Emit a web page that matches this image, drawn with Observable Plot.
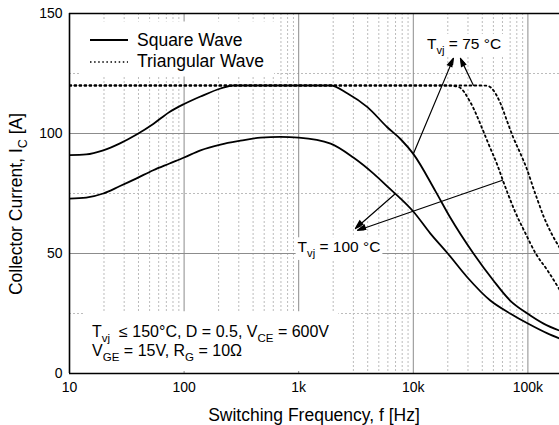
<!DOCTYPE html>
<html><head><meta charset="utf-8">
<script src="https://cdn.jsdelivr.net/npm/d3@7"></script>
<script src="https://cdn.jsdelivr.net/npm/@observablehq/plot@0.6"></script>
<style>body{margin:0;background:#fff}svg{display:block}</style>
</head><body><div id="chart"></div>
<script>
// ---- data ----
const xTicks = [10, 100, 1000, 10000, 100000];
const xTickLabels = ["10", "100", "1k", "10k", "100k"];
const yTicks = [0, 50, 100, 150];
const xGrid = [100, 1000, 10000, 100000];
const yGrid = [50, 100];
const yMinor = [25, 75, 125];
const xMinor = [];
for (const dec of [10, 100, 1000, 10000]) for (let k = 2; k <= 9; k++) xMinor.push(dec * k);

// Square wave, Tvj = 75 °C
const sqrFreq75 = [10, 14, 19.7, 27.3, 38.5, 53.8, 74.6, 100, 139, 208, 269, 400, 1000, 1900, 2670, 3980, 5960, 7800, 10000, 15600, 21000, 33500, 50000, 70000, 99000, 137000, 188700];
const sqrCurr75 = [91, 91.3, 93, 95.8, 99.6, 104, 109, 112.3, 115.4, 118.75, 120, 120, 120, 120, 116.7, 111, 102.5, 97.5, 91.5, 76, 65, 50, 38.75, 30.4, 25, 20.8, 17.9];
// Square wave, Tvj = 100 °C
const sqrFreq100 = [10, 14, 19.7, 27.3, 38.5, 53.8, 74.6, 100, 139, 208, 311, 464, 692, 1000, 1900, 3000, 4500, 6300, 7700, 10000, 14000, 20000, 29700, 47000, 70000, 100000, 148000, 188700];
const sqrCurr100 = [72.9, 73.3, 75, 78, 81.3, 84.7, 87.5, 90, 93, 95.4, 97, 98.3, 98.6, 98.3, 95.8, 90, 83.3, 76.8, 73, 67.5, 58.5, 50, 40, 30.4, 25, 20.8, 16.7, 14.6];
// Triangular wave, Tvj = 100 °C
const triFreq100 = [10, 1000, 20000, 24800, 31500, 40000, 45000, 54000, 61000, 68000, 78000, 95000, 117000, 148000, 188700];
const triCurr100 = [120, 120, 120, 119.4, 113, 102, 96, 87, 80, 74, 67, 58.5, 50, 43, 35];
// Triangular wave, Tvj = 75 °C
const triFreq75 = [10, 1000, 40000, 45000, 49000, 57700, 66000, 75000, 86000, 99000, 112000, 121000, 137000, 160000, 188700];
const triCurr75 = [120, 120, 120, 119.8, 118.5, 112.5, 105, 98, 91.7, 84.6, 77, 72.5, 65.5, 58.5, 52.5];

// annotation arrows (tail on curve -> head at label)
const arrowFromF = [10000, 33500, 7000, 60000];
const arrowFromI = [91.5, 120, 75, 80.5];
const arrowToF = [22400, 25800, 3130, 3260];
const arrowToI = [131.3, 131.3, 60.4, 59.6];

const legendLabels = ["Square Wave", "Triangular Wave"];
const xTitle = "Switching Frequency, f [Hz]";
const yTitle = ["Collector Current, I", {sub: "C"}, " [A]"];
const label75 = ["T", {sub: "vj"}, " = 75 °C"];
const label100 = ["T", {sub: "vj"}, " = 100 °C"];
const noteLine1 = ["T", {sub: "vj"}, "  ≤ 150°C, D = 0.5, V", {sub: "CE"}, " = 600V"];
const noteLine2 = ["V", {sub: "GE"}, " = 15V, R", {sub: "G"}, " = 10Ω"];
// label anchors in data coordinates
const label75Pos = {f: 28000, i: 135};
const label100Pos = {f: 2270, i: 50.3};
const notePos = {f: 15.9, i1: 14.9, i2: 7.0};

// ---- build ----
const FONT = "'Liberation Sans', Arial, Helvetica, sans-serif";
const toPts = (fs, is) => fs.map((f, k) => ({f, i: is[k]}));
const arrows = arrowFromF.map((f, k) => ({x1: f, y1: arrowFromI[k], x2: arrowToF[k], y2: arrowToI[k]}));

const plot = Plot.plot({
  width: 559, height: 425,
  marginLeft: 69, marginRight: 0, marginTop: 13, marginBottom: 52,
  style: {fontFamily: FONT, fontSize: "14px", background: "#fff", color: "#000", overflow: "visible"},
  x: {type: "log", domain: [10, 188700]},
  y: {domain: [0, 150]},
  marks: [
    Plot.ruleX(xMinor, {stroke: "#bcbcbc", strokeDasharray: "2,2", strokeWidth: 1}),
    Plot.ruleY(yMinor, {stroke: "#bcbcbc", strokeDasharray: "2,2", strokeWidth: 1}),
    Plot.ruleX(xGrid, {stroke: "#8c8c8c", strokeWidth: 1}),
    Plot.ruleY(yGrid, {stroke: "#8c8c8c", strokeWidth: 1}),
    Plot.axisX({ticks: xTicks, tickSize: 0, tickPadding: 9, tickFormat: d => xTickLabels[xTicks.indexOf(d)], label: null}),
    Plot.axisY({ticks: yTicks, tickSize: 0, tickPadding: 7, label: null}),
    Plot.line(toPts(sqrFreq75, sqrCurr75), {x: "f", y: "i", curve: "monotone-x", stroke: "#000", strokeWidth: 1.8, clip: true}),
    Plot.line(toPts(sqrFreq100, sqrCurr100), {x: "f", y: "i", curve: "monotone-x", stroke: "#000", strokeWidth: 1.8, clip: true}),
    Plot.line(toPts(triFreq100, triCurr100), {x: "f", y: "i", curve: "monotone-x", stroke: "#000", strokeWidth: 1.8, strokeDasharray: "1.8,3.2", clip: true}),
    Plot.line(toPts(triFreq75, triCurr75), {x: "f", y: "i", curve: "monotone-x", stroke: "#000", strokeWidth: 1.8, strokeDasharray: "1.8,3.2", clip: true}),
    Plot.arrow(arrows, {x1: "x1", y1: "y1", x2: "x2", y2: "y2", stroke: "#000", strokeWidth: 1.2, headLength: 8, headAngle: 30}),
    Plot.ruleY([0, 150], {stroke: "#000", strokeWidth: 1.6}),
    Plot.ruleX([10], {stroke: "#000", strokeWidth: 1.6})
  ]
});
document.getElementById("chart").appendChild(plot);

const sx = plot.scale("x"), sy = plot.scale("y");
const svg = d3.select(plot);
const firstLine = svg.select('g[aria-label="line"]').node();
const bgLayer = d3.select(plot.insertBefore(document.createElementNS("http://www.w3.org/2000/svg", "g"), firstLine));
const fg = svg.append("g").attr("font-family", FONT).attr("fill", "#000").attr("text-anchor", "start");

// filled arrowheads, positioned through the plot scales
arrows.forEach(a => {
  const x1 = sx.apply(a.x1), y1 = sy.apply(a.y1), x2 = sx.apply(a.x2), y2 = sy.apply(a.y2);
  const ang = Math.atan2(y2 - y1, x2 - x1), L = 9, W = 3.2;
  const bx = x2 - L * Math.cos(ang), by = y2 - L * Math.sin(ang);
  const px = -Math.sin(ang) * W, py = Math.cos(ang) * W;
  fg.append("polygon").attr("points", `${x2},${y2} ${bx + px},${by + py} ${bx - px},${by - py}`).attr("fill", "#000");
});

function rich(parent, parts, x, y, size, anchor, transform) {
  const t = parent.append("text").attr("x", x).attr("y", y).attr("font-size", size)
    .attr("text-anchor", anchor || "start");
  if (transform) t.attr("transform", transform);
  const shift = size * 0.3;
  let down = false;
  parts.forEach(p => {
    const ts = t.append("tspan");
    if (typeof p === "string") {
      if (down) { ts.attr("dy", -shift); down = false; }
      ts.text(p);
    } else {
      ts.attr("dy", shift).attr("font-size", size * 0.72).text(p.sub);
      down = true;
    }
  });
  return t;
}
function bg(node, padX, padT, padB) {
  const b = node.getBBox();
  bgLayer.append("rect").attr("x", b.x - padX).attr("y", b.y - padT)
    .attr("width", b.width + 2 * padX).attr("height", b.height + padT + padB).attr("fill", "#fff");
}

// axis titles
fg.append("text").attr("x", (69 + 559) / 2).attr("y", 421).attr("text-anchor", "middle")
  .attr("font-size", 17.5).text(xTitle);
rich(fg, yTitle, 0, 0, 17.5, "middle", "translate(22,204) rotate(-90)");

// legend
const lg = fg.append("g");
const lx0 = 90, lx1 = 128;
lg.append("line").attr("x1", lx0).attr("x2", lx1).attr("y1", 40).attr("y2", 40).attr("stroke", "#000").attr("stroke-width", 1.8);
lg.append("line").attr("x1", lx0).attr("x2", lx1).attr("y1", 62).attr("y2", 62).attr("stroke", "#000").attr("stroke-width", 1.4).attr("stroke-dasharray", "1.5,2.6");
lg.append("text").attr("x", 137).attr("y", 45.5).attr("font-size", 17.5).attr("text-anchor", "start").text(legendLabels[0]);
lg.append("text").attr("x", 137).attr("y", 66.5).attr("font-size", 17.5).attr("text-anchor", "start").text(legendLabels[1]);
bg(lg.node(), 10, 8, 6);

// annotations
const t75 = rich(fg, label75, sx.apply(label75Pos.f), sy.apply(label75Pos.i), 15.5, "middle");
bg(t75.node(), 2, 1, 1);
const t100 = rich(fg, label100, sx.apply(label100Pos.f), sy.apply(label100Pos.i), 15.5, "middle");
bg(t100.node(), 2, 1, 1);
const ng = fg.append("g");
rich(ng, noteLine1, sx.apply(notePos.f), sy.apply(notePos.i1), 16, "start");
rich(ng, noteLine2, sx.apply(notePos.f), sy.apply(notePos.i2), 16, "start");
bg(ng.node(), 9, 12, 8);
</script>
</body></html>
